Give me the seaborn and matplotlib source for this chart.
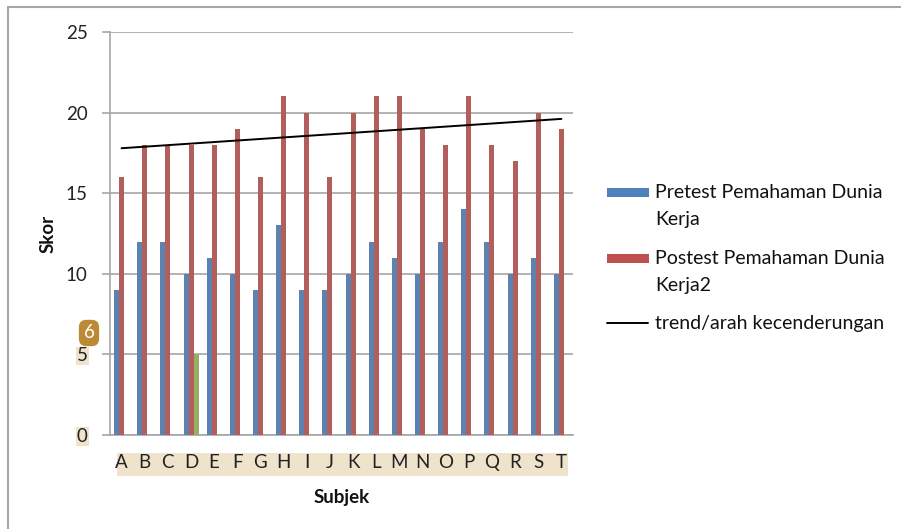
import matplotlib
matplotlib.use("Agg")
import matplotlib.pyplot as plt
import seaborn as sns
import pandas as pd
from matplotlib.patches import Rectangle
from matplotlib.lines import Line2D

subjects = list("ABCDEFGHIJKLMNOPQRST")
pretest = [9, 12, 12, 10, 11, 10, 9, 13, 9, 9, 10, 12, 11, 10, 12, 14, 12, 10, 11, 10]
posttest = [16, 18, 18, 18, 18, 19, 16, 21, 20, 16, 20, 21, 21, 19, 18, 21, 18, 17, 20, 19]
series3 = [0, 0, 0, 5, 0, 0, 0, 0, 0, 0, 0, 0, 0, 0, 0, 0, 0, 0, 0, 0]
trend_x = ["A", "T"]
trend_y = [17.79, 19.61]
yticks = [0, 5, 10, 15, 20, 25]

name_pre = "Pretest Pemahaman Dunia Kerja"
name_post = "Postest Pemahaman Dunia Kerja2"
name_s3 = "Series3"
name_trend = "trend/arah kecenderungan"

rows = []
for s, a, b, c in zip(subjects, pretest, posttest, series3):
    rows.append((s, name_pre, a))
    rows.append((s, name_post, b))
    rows.append((s, name_s3, c))
df = pd.DataFrame(rows, columns=["Subjek", "Seri", "Skor"])

sns.set_theme(style="white")
plt.rcParams["font.family"] = ["Lato", "DejaVu Sans"]

W, H = 901, 529
fig = plt.figure(figsize=(W / 100, H / 100), dpi=100)
fx = lambda x: x / W
fy = lambda y: 1 - y / H

ax = fig.add_axes([fx(110), fy(435), fx(573) - fx(110), fy(32) - fy(435)])

blue, red, green = "#4F81BD", "#C0504D", "#9BBB59"
sns.barplot(data=df, x="Subjek", y="Skor", hue="Seri",
            hue_order=[name_pre, name_post, name_s3],
            palette=[blue, red, green], width=0.65, errorbar=None,
            linewidth=0, legend=False, ax=ax, zorder=3)

ax.plot([subjects.index(trend_x[0]), subjects.index(trend_x[1])], trend_y,
        color="black", lw=1.4, zorder=4)

fs = 13.5
ax.set_xlim(-0.5, 19.5)
ax.set_ylim(0, 25)
ax.set_yticks(yticks, labels=[str(v) for v in yticks])
ax.yaxis.grid(True, color="#A6A6A6", lw=1.2, zorder=0)
ax.set_axisbelow(True)
for sp in ["top", "right"]:
    ax.spines[sp].set_visible(False)
for sp in ["left", "bottom"]:
    ax.spines[sp].set_color("#A6A6A6")
    ax.spines[sp].set_linewidth(1.2)
ax.tick_params(axis="y", length=6, width=1.2, color="#A6A6A6", pad=10,
               labelsize=fs, labelcolor="#222222", left=True)
ax.tick_params(axis="x", length=0, pad=14, labelsize=fs, labelcolor="#222222")
ax.set_xlabel("Subjek", fontsize=fs, fontweight="bold", color="#111111")
ax.set_ylabel("Skor", fontsize=fs, fontweight="bold", color="#111111")
ax.xaxis.set_label_coords(0.5, (fy(497) - fy(435)) / (fy(32) - fy(435)))
ax.yaxis.set_label_coords((fx(48) - fx(110)) / (fx(573) - fx(110)), 0.5)
ax.xaxis.label.set_va("center")
ax.yaxis.label.set_va("center")

beige = "#EFE3CC"
for lab in ax.get_yticklabels():
    if lab.get_text() in ("0", "5"):
        lab.set_bbox(dict(facecolor=beige, edgecolor="none", pad=0.5))

# beige band behind category labels
ax.add_patch(Rectangle((fx(117), fy(476)), fx(568) - fx(117), fy(453) - fy(476),
                       transform=fig.transFigure, facecolor=beige,
                       edgecolor="none", zorder=-5, clip_on=False))

# badge "6"
fig.text(fx(89), fy(333), "6", fontsize=fs, color="white", ha="center", va="center",
         bbox=dict(boxstyle="round,pad=0.25,rounding_size=0.4", facecolor="#BC8A34",
                   edgecolor="none"))

# outer frame (left and top)
fig.add_artist(Line2D([fx(8), fx(8)], [fy(7), 0], transform=fig.transFigure,
                      color="#A6A6A6", lw=1.5))
fig.add_artist(Line2D([fx(8), 1], [fy(7), fy(7)], transform=fig.transFigure,
                      color="#A6A6A6", lw=1.5))

# legend drawn manually
tsize = 14
fig.patches.append(Rectangle((fx(607), fy(197)), fx(649) - fx(607), fy(188) - fy(197),
                             transform=fig.transFigure, facecolor=blue, edgecolor="none"))
fig.text(fx(655), fy(192), "Pretest Pemahaman Dunia", fontsize=tsize, va="center", color="#111111")
fig.text(fx(655), fy(220), "Kerja", fontsize=tsize, va="center", color="#111111")
fig.patches.append(Rectangle((fx(607), fy(263)), fx(649) - fx(607), fy(254) - fy(263),
                             transform=fig.transFigure, facecolor=red, edgecolor="none"))
fig.text(fx(655), fy(259), "Postest Pemahaman Dunia", fontsize=tsize, va="center", color="#111111")
fig.text(fx(655), fy(286), "Kerja2", fontsize=tsize, va="center", color="#111111")
fig.add_artist(Line2D([fx(607), fx(648)], [fy(323), fy(323)], transform=fig.transFigure,
                      color="black", lw=1.4))
fig.text(fx(655), fy(323), name_trend, fontsize=tsize, va="center", color="#111111")

fig.savefig("out.png", dpi=100, facecolor="white")
